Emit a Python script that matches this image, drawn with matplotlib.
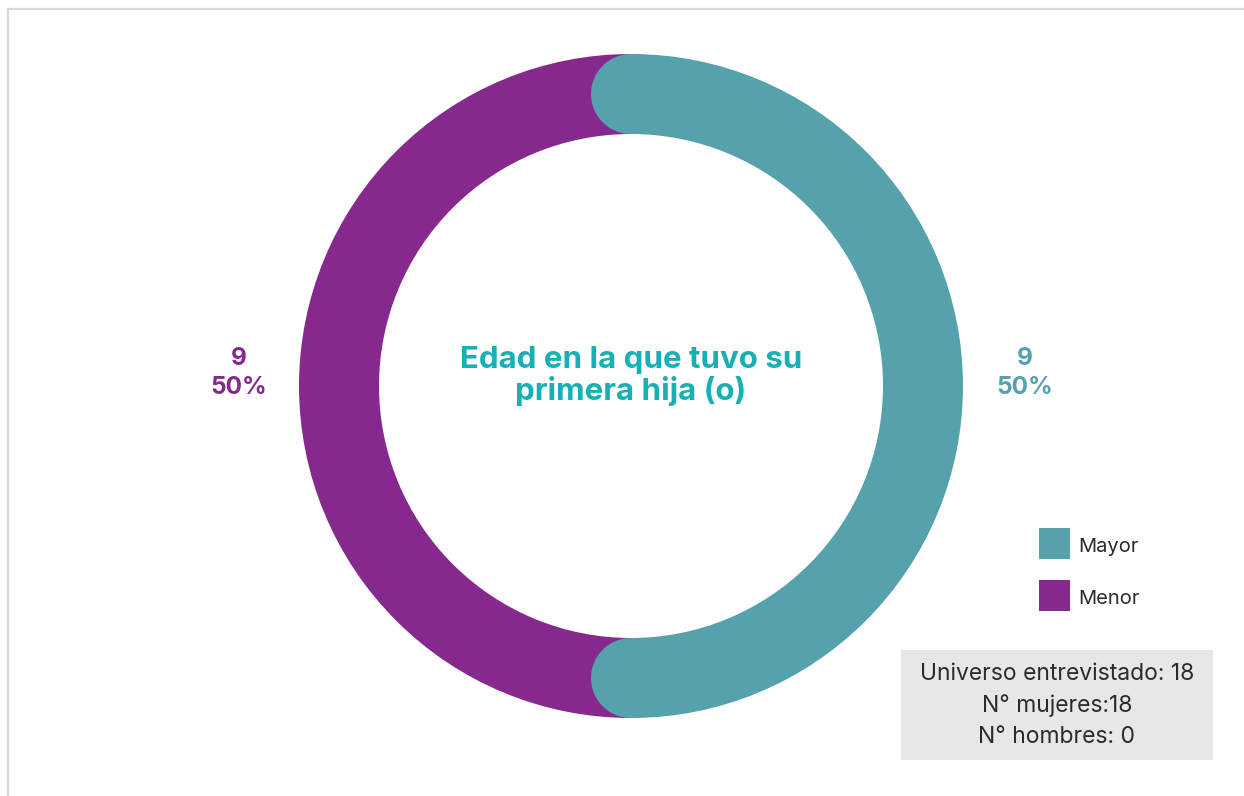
import matplotlib.pyplot as plt
from matplotlib.patches import Wedge, Circle, Rectangle
import numpy as np

categorias = ["Mayor", "Menor"]
valores = [9, 9]
colores = ["#55a1ac", "#85298f"]
titulo = "Edad en la que tuvo su\nprimera hija (o)"
nota = ["Universo entrevistado: 18", "N° mujeres:18", "N° hombres: 0"]

fig = plt.figure(figsize=(12.44, 7.96), dpi=100)
ax = fig.add_axes([0, 0, 1, 1])
ax.set_xlim(0, 1244)
ax.set_ylim(796, 0)
ax.set_aspect("equal")
ax.axis("off")

# marco gris
ax.plot([8, 8, 1244], [796, 9, 9], color="#d9d9d9", lw=1.6, solid_capstyle="butt")

cx, cy, R, w = 631, 386, 332, 80
total = sum(valores)
pct = [v / total * 100 for v in valores]

# donut: menor debajo, mayor encima con extremos redondeados
# (eje y invertido: el angulo crece en sentido horario en pantalla)
start = -90
angs = []
for v in valores:
    span = v / total * 360
    angs.append((start, start + span))
    start += span

orden = [1, 0]
for i in orden:
    a0, a1 = angs[i]
    ax.add_patch(Wedge((cx, cy), R, a0, a1, width=w, color=colores[i], lw=0))
    if i == 0:
        rm = R - w / 2
        for a in (a0, a1):
            t = np.radians(a)
            ax.add_patch(Circle((cx + rm * np.cos(t), cy + rm * np.sin(t)), w / 2,
                                color=colores[i], lw=0))

# etiquetas
pos_lab = [(1025, 373), (239, 373)]
for i, (x, y) in enumerate(pos_lab):
    ax.text(x, y, f"{valores[i]}\n{pct[i]:.0f}%", color=colores[i], ha="center",
            va="center", fontsize=17.5, fontweight="bold", family="Inter",
            linespacing=1.3)

ax.text(cx, 376, titulo, color="#17b0b4", ha="center", va="center",
        fontsize=22.5, fontweight="bold", family="Inter", linespacing=1.1)

# leyenda
for i, cat in enumerate(categorias):
    y0 = 528 + i * 52
    ax.add_patch(Rectangle((1039, y0), 31, 31, color=colores[i], lw=0))
    ax.text(1078, y0 + 19, cat, ha="left", va="center", fontsize=14.5,
            color="#2b2b2b", family="Inter")

# recuadro universo
ax.add_patch(Rectangle((901, 650), 312, 110, color="#e6e7e9", lw=0))
for j, linea in enumerate(nota):
    ax.text(1057, 674 + j * 31.5, linea, ha="center", va="center", fontsize=16.5,
            color="#2b2b2b", family="Inter")

fig.savefig("out.png", dpi=100)
